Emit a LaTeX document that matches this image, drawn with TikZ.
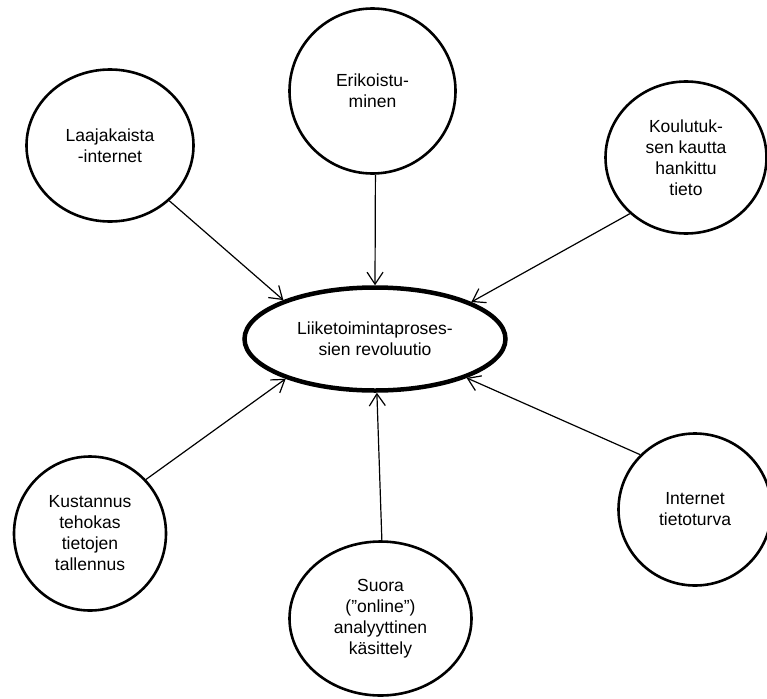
\documentclass[tikz,border=0pt]{standalone}
\usepackage{fontspec}
\setmainfont{Liberation Sans}
\usetikzlibrary{shapes.geometric,arrows.meta}
\begin{document}
\begin{tikzpicture}[x=1pt,y=-1pt,
  labelfont/.style={font=\fontsize{17.5}{21}\selectfont},
  topic/.style={draw, ellipse, line width=2.6pt, inner sep=0pt, align=center, labelfont},
  hub/.style={draw, ellipse, line width=4.5pt, inner sep=0pt, align=center, labelfont},
  feed/.style={line width=1.2pt, -{Straight Barb[length=12pt,width=16pt]}}]
\useasboundingbox (0,0) rectangle (767,698);

% central theme
\node[hub, minimum width=261pt, minimum height=103pt] (cent) at (375,339)
  {Liiketoimintaproses-\\sien revoluutio};

% surrounding drivers
\node[topic, minimum width=167pt, minimum height=152pt] (laaj) at (110,145.5)
  {Laajakaista\\-internet};
\node[topic, minimum width=166pt, minimum height=165pt] (erik) at (372.5,91)
  {Erikoistu-\\minen};
\node[topic, minimum width=161pt, minimum height=152pt] (koul) at (686,157.5)
  {Koulutuk-\\sen kautta\\hankittu\\tieto};
\node[topic, minimum width=152pt, minimum height=154pt] (kust) at (90,533.5)
  {Kustannus\\tehokas\\tietojen\\tallennus};
\node[topic, minimum width=182pt, minimum height=154pt] (suor) at (380.5,618.5)
  {Suora\\(”online”)\\analyyttinen\\käsittely};
\node[topic, minimum width=153pt, minimum height=152pt] (inte) at (695,509.5)
  {Internet\\tietoturva};

% connectors pointing to the centre
\draw[feed] (laaj.-43.3) -- (cent.157.7);
\draw[feed] (erik.-88) -- (cent.90);
\draw[feed] (koul.225.2) -- (cent.21.3);
\draw[feed] (kust.44.5) -- (cent.204.4);
\draw[feed] (suor.89) -- (cent.-88);
\draw[feed] (inte.135.3) -- (cent.-23.3);
\end{tikzpicture}
\end{document}
